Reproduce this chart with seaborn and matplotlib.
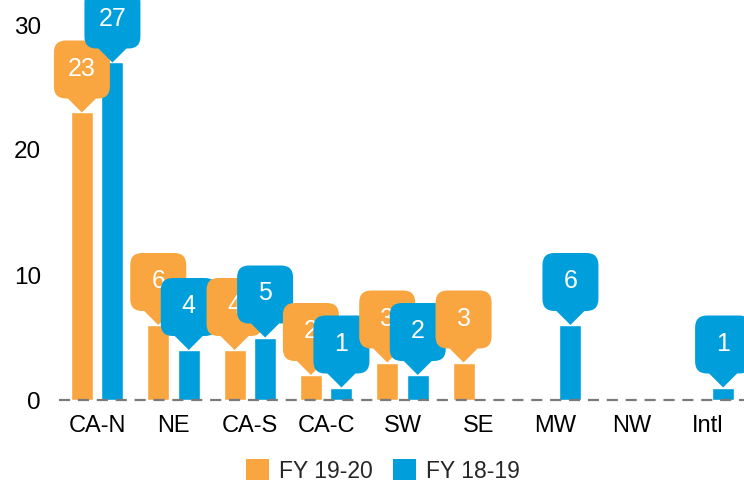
import matplotlib
matplotlib.use("Agg")
import matplotlib.pyplot as plt
import matplotlib.transforms as mtransforms
from matplotlib.path import Path
from matplotlib.patches import PathPatch, Patch
import seaborn as sns
import pandas as pd

regions = ["CA-N", "NE", "CA-S", "CA-C", "SW", "SE", "MW", "NW", "Intl"]
fy_19_20 = [23, 6, 4, 2, 3, 3, 0, 0, 0]
fy_18_19 = [27, 4, 5, 1, 2, 0, 6, 0, 1]
series_names = ["FY 19-20", "FY 18-19"]
colors = ["#F9A540", "#009FDB"]
y_ticks = [0, 10, 20, 30]

df = pd.DataFrame({
    "region": regions * 2,
    "value": fy_19_20 + fy_18_19,
    "series": [series_names[0]] * len(regions) + [series_names[1]] * len(regions),
})

sns.set_theme(style="white")
plt.rcParams["font.family"] = ["Liberation Sans", "DejaVu Sans"]

fig = plt.figure(figsize=(7.44, 4.86), dpi=100)
ax = fig.add_axes([59 / 744, 86 / 486, 687 / 744, 375 / 486])

sns.barplot(data=df, x="region", y="value", hue="series", order=regions,
            hue_order=series_names, palette=colors, width=0.8, gap=0.28,
            saturation=1, errorbar=None, ax=ax, legend=False)

ax.set_ylim(0, 30)
ax.set_xlim(-0.5, len(regions) - 0.5)
ax.set_yticks(y_ticks)
ax.set_xlabel("")
ax.set_ylabel("")
for s in ax.spines.values():
    s.set_visible(False)
ax.tick_params(axis="y", length=0, pad=13, labelsize=17.5, labelcolor="black")
ax.tick_params(axis="x", length=0, pad=11, labelsize=17, labelcolor="black")
ax.axhline(0, color="#7a7a7a", lw=1.6, ls=(0, (5, 3.5)), zorder=3, clip_on=False)

# speech-bubble callouts (pixel geometry relative to the bar top)
W, H, P, PB, R = 56, 58, 14, 28, 12
def bubble_path():
    hw = W / 2
    top = P + H
    v = [
        (0, 0), (PB / 2, P), (hw - R, P), (hw, P), (hw, P + R),
        (hw, top - R), (hw, top), (hw - R, top),
        (-hw + R, top), (-hw, top), (-hw, top - R),
        (-hw, P + R), (-hw, P), (-hw + R, P),
        (-PB / 2, P), (0, 0),
    ]
    c = [Path.MOVETO, Path.LINETO, Path.LINETO, Path.CURVE3, Path.CURVE3,
         Path.LINETO, Path.CURVE3, Path.CURVE3,
         Path.LINETO, Path.CURVE3, Path.CURVE3,
         Path.LINETO, Path.CURVE3, Path.CURVE3,
         Path.LINETO, Path.CLOSEPOLY]
    v = [(a / 100.0, b / 100.0) for a, b in v]
    return Path(v, c)

items = []
for hi, cont in enumerate(ax.containers):
    for ci, bar in enumerate(cont.patches):
        h = bar.get_height()
        if h <= 0:
            continue
        x = bar.get_x() + bar.get_width() / 2
        items.append((ci, hi, x, h))
items.sort()

path = bubble_path()
z = 5
for ci, hi, x, h in items:
    trans = fig.dpi_scale_trans + mtransforms.ScaledTranslation(x, h, ax.transData)
    ax.add_patch(PathPatch(path, transform=trans, facecolor=colors[hi],
                           edgecolor="none", clip_on=False, zorder=z))
    ax.annotate(f"{int(h)}", xy=(x, h), xytext=(0, (P + H / 2 + 1) * 0.72),
                textcoords="offset points", ha="center", va="center",
                color="white", fontsize=18, zorder=z + 0.5,
                annotation_clip=False)
    z += 1

handles = [Patch(facecolor=c, edgecolor="none") for c in colors]
fig.legend(handles, series_names, loc="center", bbox_to_anchor=(383 / 744, 1 - 471 / 486),
           ncol=2, frameon=False, fontsize=16.5, handlelength=1.0, handleheight=1.0,
           handletextpad=0.45, columnspacing=0.9, borderaxespad=0, borderpad=0)

fig.savefig("out.png", dpi=100)
